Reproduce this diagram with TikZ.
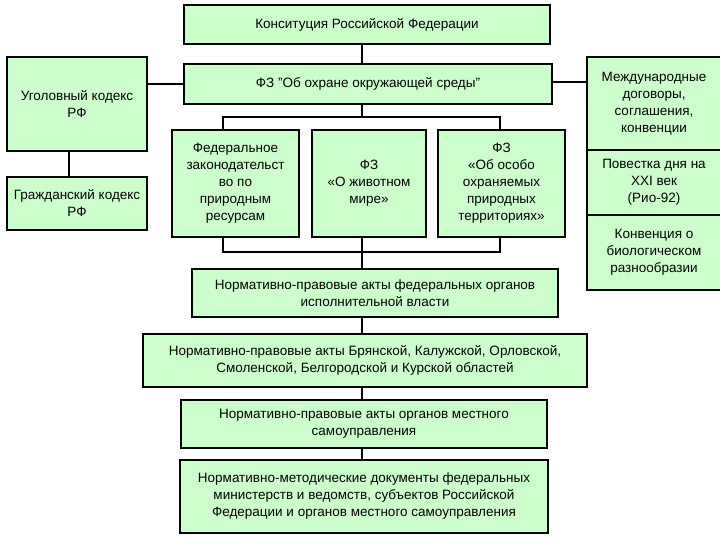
\documentclass[tikz,border=0pt]{standalone}
\usepackage{fontspec}
\setmainfont{Liberation Sans}
\usetikzlibrary{arrows,shapes}
\definecolor{lightgreen}{RGB}{204, 255, 204}
\tikzstyle{lawbox}=[draw,fill=lightgreen,line width=2pt,align=center,inner sep=1pt,font=\fontsize{13.5}{17}\selectfont]
\tikzstyle{link}=[line width=2pt]

\begin{document}
\begin{tikzpicture}
\useasboundingbox (0pt,0pt) rectangle (720pt,-540pt);

\node[lawbox,minimum width=366pt,minimum height=39pt] (CONST) at (367pt,-24.5pt) {Конситуция Российской Федерации};
\node[lawbox,minimum width=368pt,minimum height=40pt] (FZOOS) at (368pt,-84pt) {ФЗ "Об охране окружающей среды"};

\node[lawbox,minimum width=140pt,minimum height=94pt] (UK) at (77pt,-104pt) {Уголовный кодекс \\ РФ};
\node[lawbox,minimum width=140pt,minimum height=53pt] (GK) at (77pt,-203.5pt) {Гражданский кодекс \\ РФ};

\node[lawbox,minimum width=127pt,minimum height=107pt] (FZPR) at (235.5pt,-183.5pt) {Федеральное \\ законодательст \\ во по \\ природным \\ ресурсам};
\node[lawbox,minimum width=114pt,minimum height=107pt] (FZZH) at (369pt,-183.5pt) {ФЗ \\ «О животном \\ мире»};
\node[lawbox,minimum width=127pt,minimum height=107pt] (FZOOPT) at (501.5pt,-183.5pt) {ФЗ \\ «Об особо \\ охраняемых \\ природных \\ территориях»};

\node[lawbox,minimum width=134pt,minimum height=93pt] (MD) at (654pt,-103.5pt) {Международные \\ договоры, \\ соглашения, \\ конвенции};
\node[lawbox,minimum width=134pt,minimum height=65pt] (RIO) at (654pt,-182.5pt) {Повестка дня на \\ XXI век \\ (Рио-92)};
\node[lawbox,minimum width=134pt,minimum height=75pt] (CBD) at (654pt,-252.5pt) {Конвенция о \\ биологическом \\ разнообразии};

\node[lawbox,minimum width=366pt,minimum height=48pt] (FOIV) at (375pt,-293pt) {Нормативно-правовые акты федеральных органов \\ исполнительной власти};
\node[lawbox,minimum width=444pt,minimum height=53pt] (OBL) at (365pt,-360.5pt) {Нормативно-правовые акты Брянской, Калужской, Орловской, \\ Смоленской, Белгородской и Курской областей};
\node[lawbox,minimum width=366pt,minimum height=48pt] (MSU) at (364pt,-424pt) {Нормативно-правовые акты органов местного \\ самоуправления};
\node[lawbox,minimum width=368pt,minimum height=73pt] (NMD) at (364pt,-496.5pt) {Нормативно-методические документы федеральных \\ министерств и ведомств, субъектов Российской \\ Федерации и органов местного самоуправления};

\coordinate (TOPFORK) at (362pt,-117pt);
\coordinate (BOTFORK) at (362pt,-252pt);

\draw[link] (CONST.south -| TOPFORK) -- (FZOOS.north -| TOPFORK);
\draw[link] (FZOOS.south -| TOPFORK) -- (TOPFORK);
\draw[link] ([xshift=-12.5pt]FZPR.north) |- (TOPFORK) -| ([xshift=-1.5pt]FZOOPT.north);
\draw[link] ([xshift=-12.5pt]FZPR.south) |- (BOTFORK) -| ([xshift=-1.5pt]FZOOPT.south);
\draw[link] (FZZH.south -| BOTFORK) -- (FOIV.north -| BOTFORK);
\draw[link] (FOIV.south -| BOTFORK) -- (OBL.north -| BOTFORK);
\draw[link] (OBL.south -| BOTFORK) -- (MSU.north -| BOTFORK);
\draw[link] (MSU.south -| BOTFORK) -- (NMD.north -| BOTFORK);

\draw[link] (FZOOS.west) -- (FZOOS.west -| UK.east);
\draw[link] ([yshift=2pt]FZOOS.east) -- ([yshift=2pt]FZOOS.east -| MD.west);
\draw[link] ([xshift=-8pt]UK.south) -- ([xshift=-8pt]GK.north);

\end{tikzpicture}
\end{document}
